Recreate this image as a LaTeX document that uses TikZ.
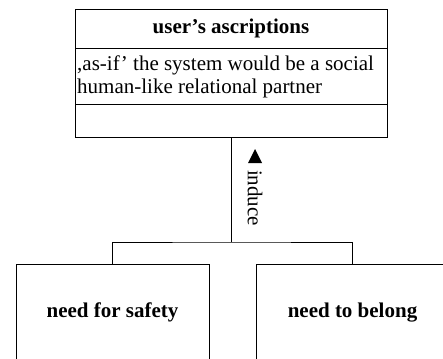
\documentclass[tikz,border=0pt]{standalone}
\usepackage{fontspec}
\setmainfont{Liberation Serif}
\begin{document}
\begin{tikzpicture}[x=1pt,y=-1pt,
  box/.style={draw, line width=0.8pt, inner sep=2pt, font=\fontsize{21}{24}\selectfont, text height=15pt, text depth=5pt},
  lbl/.style={font=\fontsize{21}{24}\selectfont, inner sep=0pt}]
\useasboundingbox (0,0) rectangle (443,358);
\clip (0,0) rectangle (443,358);
\node[box, minimum width=312pt, minimum height=39pt] (title) at (231,28.5) {\bfseries user's ascriptions};
\node[draw, line width=0.8pt, minimum width=312pt, minimum height=56pt] (attr) at (231,76) {};
\node[lbl, anchor=west, align=left, font=\fontsize{21}{23.5}\selectfont] (attrtext) at (77,77) {,as-if' the system would be a social\\human-like relational partner};
\node[draw, line width=0.8pt, minimum width=312pt, minimum height=33pt] (ops) at (231,120.5) {};
\coordinate (j) at (231,242);
\node[box, minimum width=193pt, minimum height=96pt] (safety) at (112.5,312) {\bfseries need for safety};
\node[box, minimum width=193pt, minimum height=96pt] (belong) at (352.5,312) {\bfseries need to belong};
\draw[line width=0.8pt] (ops.south) -- (j);
\draw[line width=0.8pt] (safety.north) |- (j) -| (belong.north);
\node[lbl, rotate=-90] (induce) at (255,198) {induce};
\fill (248,163) -- (255,149) -- (262,163) -- cycle;
\end{tikzpicture}
\end{document}
